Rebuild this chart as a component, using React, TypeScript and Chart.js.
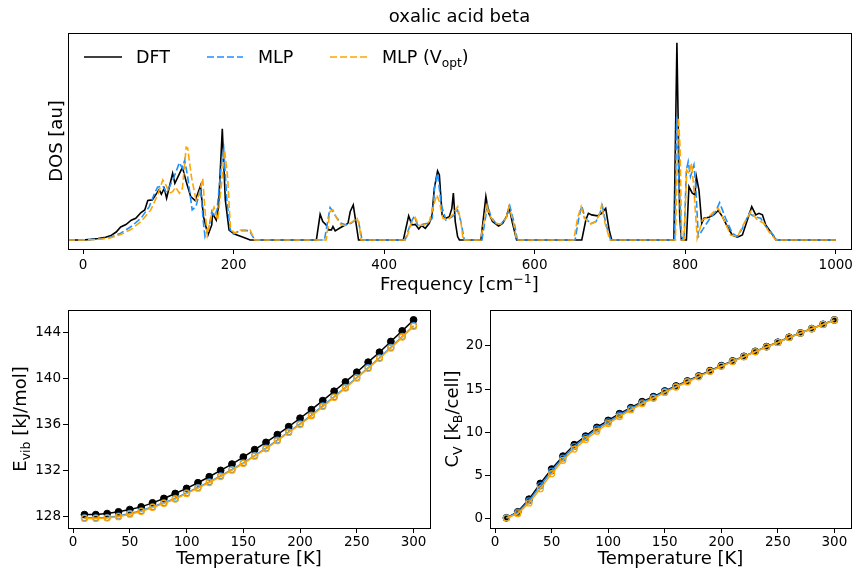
import React, { useEffect, useRef } from "react";
import { Chart, registerables } from "chart.js";
Chart.register(...registerables);

const FONT = "'DejaVu Sans', sans-serif";
const BLUE = "#1E90FF";
const ORANGE = "#FFA500";
const DASH = [7, 3];

// ---------- DOS data (frequency cm^-1, DOS arbitrary units) ----------
const dftFreq = [-20, 0, 10, 20, 30, 37, 44, 50, 57, 64, 70, 77, 82, 86, 92, 98, 101, 104, 108, 111, 119, 122, 132, 137, 143, 149, 156, 160, 166, 171, 172, 177, 180, 185, 189, 194, 201, 210, 218, 222,
  310, 315, 318.5, 323, 326, 330, 332, 335, 340.6, 347, 352, 355, 359, 363, 366,
  425.5, 432.6, 437, 441.4, 446, 450, 454.7, 460, 463.6, 466.7, 471, 473.4, 477, 482, 486.6, 490, 492, 494.5, 497.6, 500,
  528.6, 535.2, 539, 544, 552, 557.4, 562.6, 566, 570.6, 576,
  662.6, 668, 671.4, 675.8, 683.4, 689, 694.4, 699, 702.4,
  785, 789, 792.7, 795, 801.6, 805, 809.4, 813, 814.8, 818.3, 822, 825, 831.5, 838, 844, 849.4, 856, 862.5, 869.4, 876, 882.6, 888.4, 893.8, 898, 902.6, 907, 913.3, 920.6, 1000];
const dftDos = [0, 0, 0.003, 0.007, 0.014, 0.022, 0.04, 0.066, 0.078, 0.1, 0.11, 0.139, 0.152, 0.2, 0.203, 0.237, 0.255, 0.232, 0.262, 0.211, 0.338, 0.287, 0.368, 0.296, 0.22, 0.199, 0.274, 0.118, 0.025, 0.076, 0.135, 0.1, 0.169, 0.563, 0.203, 0.05, 0.03, 0.017, 0.006, 0,
  0, 0.13, 0.093, 0.076, 0.051, 0.051, 0.068, 0.046, 0.059, 0.073, 0.084, 0.144, 0.177, 0.076, 0,
  0, 0.122, 0.076, 0.079, 0.056, 0.073, 0.059, 0.084, 0.127, 0.262, 0.35, 0.33, 0.127, 0.11, 0.118, 0.16, 0.237, 0.093, 0.017, 0,
  0, 0.22, 0.135, 0.093, 0.071, 0.084, 0.118, 0.166, 0.084, 0,
  0, 0.101, 0.135, 0.127, 0.122, 0.135, 0.16, 0.051, 0,
  0, 1.0, 0.118, 0, 0, 0.27, 0.237, 0.228, 0.321, 0.253, 0.084, 0.11, 0.115, 0.127, 0.149, 0.118, 0.068, 0.025, 0.014, 0.025, 0.101, 0.169, 0.127, 0.135, 0.127, 0.076, 0.042, 0, 0];

const mlpFreq = [-20, 0, 15, 25, 37, 50, 64, 77, 88, 95, 99, 106, 110, 115, 121, 128, 132, 135, 139, 145, 150, 156, 160, 162, 168, 171, 174, 178, 184, 187, 191, 196, 200, 205, 208, 221, 228,
  320.7, 328.2, 332, 336, 343, 349.4, 356, 362, 366, 370.7,
  428, 436, 440, 444.5, 451, 458, 464, 467, 471, 476, 482, 491, 497.6, 502, 506.5,
  530, 537.4, 542, 548.5, 555, 562, 567, 573, 577,
  653.7, 659, 662.6, 667, 674.6, 681.4, 686.6, 690, 694.4, 701,
  786, 788.7, 792, 795, 798.5, 801.6, 804, 807, 811.6, 813.8, 817.4, 822.7, 831.5, 840.4, 845.7, 853.7, 862.5, 869.4, 876, 885, 891.6, 900.4, 907, 913.3, 922, 1000];
const mlpDos = [0, 0, 0.003, 0.006, 0.014, 0.034, 0.068, 0.11, 0.169, 0.237, 0.267, 0.274, 0.245, 0.27, 0.32, 0.392, 0.363, 0.405, 0.32, 0.152, 0.169, 0.262, 0.084, 0.017, 0.076, 0.144, 0.118, 0.152, 0.389, 0.456, 0.203, 0.042, 0.03, 0.04, 0.047, 0.047, 0,
  0, 0.164, 0.144, 0.118, 0.084, 0.076, 0.084, 0.101, 0.093, 0,
  0, 0.093, 0.118, 0.076, 0.079, 0.084, 0.11, 0.262, 0.338, 0.177, 0.101, 0.118, 0.152, 0.093, 0,
  0, 0.177, 0.118, 0.084, 0.081, 0.11, 0.172, 0.084, 0,
  0, 0.118, 0.172, 0.11, 0.084, 0.093, 0.135, 0.172, 0.084, 0,
  0, 0.625, 0.27, 0.017, 0, 0.355, 0.397, 0.321, 0.38, 0.287, 0.017, 0.05, 0.101, 0.144, 0.189, 0.11, 0.034, 0.017, 0.059, 0.135, 0.118, 0.11, 0.068, 0.042, 0, 0];

const optFreq = [-20, 0, 15, 25, 37, 50, 64, 77, 90, 99, 106, 110, 115, 119, 123, 128, 132, 137, 139, 144, 150, 154, 159, 162, 165, 171, 174, 179, 184, 188, 192, 196, 202, 208, 222, 228,
  323, 328, 332, 337, 343, 349.4, 358, 364, 367, 369.4,
  429, 436, 441.4, 446, 453.4, 460, 464.6, 470, 473.4, 478, 484.6, 491, 497.6, 502, 505,
  528, 536.4, 541, 548, 555, 562, 566, 572, 576,
  652, 657, 661.7, 666, 674.6, 681.4, 686.6, 689, 693.5, 700,
  787, 791, 793.1, 795.4, 798.5, 802, 805, 808.6, 811.6, 816, 822.7, 831.5, 840.4, 844, 851.6, 860.3, 869.4, 878.2, 887.3, 896, 904.8, 911, 920.6, 1000];
const optDos = [0, 0, 0.002, 0.005, 0.011, 0.027, 0.054, 0.093, 0.152, 0.228, 0.304, 0.279, 0.237, 0.245, 0.267, 0.237, 0.262, 0.47, 0.465, 0.32, 0.203, 0.228, 0.312, 0.152, 0.025, 0.135, 0.165, 0.1, 0.287, 0.456, 0.32, 0.05, 0.035, 0.05, 0.05, 0,
  0, 0.144, 0.152, 0.11, 0.076, 0.073, 0.093, 0.11, 0.076, 0,
  0, 0.084, 0.113, 0.073, 0.076, 0.093, 0.16, 0.228, 0.194, 0.11, 0.101, 0.127, 0.169, 0.093, 0,
  0, 0.169, 0.118, 0.084, 0.081, 0.11, 0.169, 0.084, 0,
  0, 0.11, 0.169, 0.11, 0.081, 0.093, 0.135, 0.177, 0.084, 0,
  0, 0.62, 0.473, 0, 0, 0.355, 0.338, 0.389, 0.253, 0.008, 0.101, 0.118, 0.152, 0.16, 0.101, 0.025, 0.017, 0.084, 0.144, 0.101, 0.084, 0.042, 0, 0];

// ---------- thermodynamics ----------
const temps = [10, 20, 30, 40, 50, 60, 70, 80, 90, 100, 110, 120, 130, 140, 150, 160, 170, 180, 190, 200, 210, 220, 230, 240, 250, 260, 270, 280, 290, 300];
const evibDft = [128.2, 128.2, 128.29, 128.44, 128.64, 128.87, 129.22, 129.6, 130.03, 130.47, 130.96, 131.48, 132.03, 132.58, 133.19, 133.83, 134.46, 135.13, 135.82, 136.55, 137.3, 138.08, 138.89, 139.7, 140.54, 141.41, 142.27, 143.2, 144.12, 145.07];
const evibMlp = [127.92, 127.92, 127.95, 128.08, 128.3, 128.53, 128.88, 129.23, 129.6, 130.08, 130.55, 131.04, 131.56, 132.11, 132.69, 133.32, 133.96, 134.66, 135.38, 136.06, 136.82, 137.62, 138.41, 139.22, 140.08, 140.93, 141.79, 142.69, 143.64, 144.57];
const evibOpt = [127.87, 127.87, 127.9, 128.02, 128.24, 128.47, 128.82, 129.17, 129.54, 130.02, 130.49, 130.98, 131.5, 132.05, 132.63, 133.26, 133.9, 134.6, 135.32, 136.0, 136.76, 137.56, 138.35, 139.16, 140.02, 140.87, 141.73, 142.63, 143.58, 144.51];
const cvDft = [0.08, 0.77, 2.24, 4.06, 5.73, 7.23, 8.55, 9.55, 10.56, 11.37, 12.15, 12.84, 13.54, 14.12, 14.78, 15.36, 15.94, 16.52, 17.14, 17.72, 18.26, 18.8, 19.38, 19.92, 20.43, 21.01, 21.51, 22.01, 22.51, 23.02];
const cvMlp = [0.07, 0.7, 2.05, 3.8, 5.5, 7.0, 8.35, 9.38, 10.38, 11.2, 12.0, 12.72, 13.42, 14.03, 14.7, 15.3, 15.88, 16.47, 17.09, 17.68, 18.22, 18.77, 19.35, 19.9, 20.41, 20.99, 21.5, 22.0, 22.5, 23.01];
const cvOpt = [0.06, 0.55, 1.8, 3.45, 5.2, 6.75, 8.05, 9.15, 10.12, 11.0, 11.82, 12.58, 13.3, 13.93, 14.62, 15.23, 15.83, 16.42, 17.05, 17.65, 18.19, 18.75, 19.33, 19.88, 20.4, 20.98, 21.49, 21.99, 22.49, 23.0];

const freqTicks = [0, 200, 400, 600, 800, 1000];

type Part = { t: string; s?: "sub" | "sup" };

const pts = (xs: number[], ys: number[]) => xs.map((x, i) => ({ x, y: ys[i] }));

function drawRich(ctx: CanvasRenderingContext2D, parts: Part[], cx: number, cy: number, size: number, rotate = false, align: "center" | "left" = "center") {
  ctx.save();
  ctx.translate(cx, cy);
  if (rotate) ctx.rotate(-Math.PI / 2);
  const widths = parts.map((p) => {
    ctx.font = `${p.s ? size * 0.7 : size}px ${FONT}`;
    return ctx.measureText(p.t).width;
  });
  const total = widths.reduce((a, b) => a + b, 0);
  let x = align === "center" ? -total / 2 : 0;
  const base = size * 0.36;
  ctx.fillStyle = "#000";
  ctx.textBaseline = "alphabetic";
  ctx.textAlign = "left";
  parts.forEach((p, i) => {
    const fs = p.s ? size * 0.7 : size;
    ctx.font = `${fs}px ${FONT}`;
    const dy = p.s === "sub" ? size * 0.22 : p.s === "sup" ? -size * 0.42 : 0;
    ctx.fillText(p.t, x, base + dy);
    x += widths[i];
  });
  ctx.restore();
}

type Label = { parts: Part[]; x: number; y: number; size: number; rotate?: boolean; align?: "center" | "left" };
type LegendLine = { x0: number; x1: number; y: number; color: string; dash: number[] };

function decorPlugin(labels: Label[], legendLines: LegendLine[] = []) {
  return {
    id: "decor",
    afterDraw(chart: any) {
      const ctx: CanvasRenderingContext2D = chart.ctx;
      const a = chart.chartArea;
      ctx.save();
      ctx.strokeStyle = "#000";
      ctx.lineWidth = 1;
      ctx.setLineDash([]);
      ctx.strokeRect(Math.round(a.left) + 0.5, Math.round(a.top) + 0.5, Math.round(a.right - a.left), Math.round(a.bottom - a.top));
      for (const l of legendLines) {
        ctx.beginPath();
        ctx.strokeStyle = l.color;
        ctx.lineWidth = 1.6;
        ctx.setLineDash(l.dash);
        ctx.moveTo(l.x0, l.y);
        ctx.lineTo(l.x1, l.y);
        ctx.stroke();
      }
      ctx.setLineDash([]);
      ctx.restore();
      for (const l of labels) drawRich(ctx, l.parts, l.x, l.y, l.size, !!l.rotate, l.align || "center");
    },
  };
}

const tickFont = { family: FONT, size: 13.5 };
const W = 856;
const H = 573;
const fmt = (v: any) => String(v);

function xAxis(min: number, max: number, step: number, height: number, pad: number) {
  return {
    type: "linear",
    min,
    max,
    ticks: { stepSize: step, includeBounds: false, font: tickFont, color: "#000", padding: pad, maxRotation: 0, autoSkip: false, callback: fmt },
    grid: { drawOnChartArea: false, drawTicks: true, tickLength: 5, color: "#000", lineWidth: 1 },
    border: { display: false },
    afterFit: (s: any) => { s.height = height; },
  };
}

function yAxis(min: number, max: number, step: number | null, width: number) {
  if (step === null) {
    return {
      type: "linear", min, max,
      ticks: { display: false },
      grid: { display: false },
      border: { display: false },
      afterFit: (s: any) => { s.width = width; },
    };
  }
  return {
    type: "linear", min, max,
    ticks: { stepSize: step, includeBounds: false, font: tickFont, color: "#000", padding: 2, callback: fmt },
    grid: { drawOnChartArea: false, drawTicks: true, tickLength: 5, color: "#000", lineWidth: 1 },
    border: { display: false },
    afterFit: (s: any) => { s.width = width; },
  };
}

function commonOpts(padding: any, scales: any) {
  return {
    animation: false,
    responsive: false,
    devicePixelRatio: 1,
    events: [],
    layout: { padding },
    plugins: { legend: { display: false }, tooltip: { enabled: false }, title: { display: false } },
    elements: { line: { tension: 0 } },
    scales,
  };
}

function useChart(ref: React.RefObject<HTMLCanvasElement>, make: () => any) {
  useEffect(() => {
    if (!ref.current) return;
    const chart = new Chart(ref.current, make());
    return () => chart.destroy();
  }, []);
}

export default function App() {
  const topRef = useRef<HTMLCanvasElement>(null);
  const leftRef = useRef<HTMLCanvasElement>(null);
  const rightRef = useRef<HTMLCanvasElement>(null);

  useChart(topRef, () => ({
    type: "line",
    data: {
      datasets: [
        { label: "DFT", data: pts(dftFreq, dftDos), borderColor: "#000", borderWidth: 1.6, pointRadius: 0, order: 3 },
        { label: "MLP", data: pts(mlpFreq, mlpDos), borderColor: BLUE, borderWidth: 1.6, borderDash: DASH, pointRadius: 0, order: 2 },
        { label: "MLP (Vopt)", data: pts(optFreq, optDos), borderColor: ORANGE, borderWidth: 1.6, borderDash: DASH, pointRadius: 0, order: 1 },
      ],
    },
    options: (() => {
      const o: any = commonOpts({ left: 0, top: 33, right: W - 851, bottom: H - 249 - 40 }, {
        x: xAxis(-20, 1020, 200, 40, 3),
        y: yAxis(-0.046, 1.049, null, 68),
      });
      o.scales.x.afterBuildTicks = (s: any) => { s.ticks = freqTicks.map((v) => ({ value: v })); };
      return o;
    })(),
    plugins: [decorPlugin([
      { parts: [{ t: "oxalic acid beta" }], x: 459.5, y: 16, size: 18 },
      { parts: [{ t: "Frequency [cm" }, { t: "\u22121", s: "sup" }, { t: "]" }], x: 459.5, y: 284, size: 18 },
      { parts: [{ t: "DOS [au]" }], x: 56, y: 141, size: 18, rotate: true },
      { parts: [{ t: "DFT" }], x: 136, y: 57, size: 17.5, align: "left" },
      { parts: [{ t: "MLP" }], x: 258, y: 57, size: 17.5, align: "left" },
      { parts: [{ t: "MLP (V" }, { t: "opt", s: "sub" }, { t: ")" }], x: 382, y: 57, size: 17.5, align: "left" },
    ], [
      { x0: 84, x1: 122, y: 57, color: "#000", dash: [] },
      { x0: 207, x1: 243, y: 57, color: BLUE, dash: DASH },
      { x0: 330, x1: 367, y: 57, color: ORANGE, dash: DASH },
    ])],
  }));

  const thermoSets = (dft: number[], mlp: number[], opt: number[]) => [
    { label: "DFT", data: pts(temps, dft), borderColor: "#000", borderWidth: 1.5, pointRadius: 3.4, pointBackgroundColor: "#000", pointBorderColor: "#000", pointBorderWidth: 1, order: 3 },
    { label: "MLP", data: pts(temps, mlp), borderColor: BLUE, borderWidth: 1.5, pointRadius: 3, pointBackgroundColor: "rgba(0,0,0,0)", pointBorderColor: BLUE, pointBorderWidth: 1.2, order: 2 },
    { label: "MLP (Vopt)", data: pts(temps, opt), borderColor: ORANGE, borderWidth: 1.5, pointRadius: 3, pointBackgroundColor: "rgba(0,0,0,0)", pointBorderColor: ORANGE, pointBorderWidth: 1.2, order: 1 },
  ];

  useChart(leftRef, () => ({
    type: "line",
    data: { datasets: thermoSets(evibDft, evibMlp, evibOpt) },
    options: commonOpts({ left: 0, top: 310, right: W - 430, bottom: H - 528 - 30 }, {
      x: xAxis(-4.5, 314.5, 50, 30, 1),
      y: yAxis(127.04, 145.93, 4, 68),
    }),
    plugins: [decorPlugin([
      { parts: [{ t: "Temperature [K]" }], x: 249, y: 558, size: 18 },
      { parts: [{ t: "E" }, { t: "vib", s: "sub" }, { t: " [kJ/mol]" }], x: 20, y: 419, size: 18, rotate: true },
    ])],
  }));

  useChart(rightRef, () => ({
    type: "line",
    data: { datasets: thermoSets(cvDft, cvMlp, cvOpt) },
    options: commonOpts({ left: 0, top: 310, right: W - 851, bottom: H - 528 - 30 }, {
      x: xAxis(-4.5, 314.5, 50, 30, 1),
      y: yAxis(-1.1, 24.17, 5, 490),
    }),
    plugins: [decorPlugin([
      { parts: [{ t: "Temperature [K]" }], x: 670.5, y: 558, size: 18 },
      { parts: [{ t: "C" }, { t: "V", s: "sub" }, { t: " [k" }, { t: "B", s: "sub" }, { t: "/cell]" }], x: 452, y: 419, size: 18, rotate: true },
    ])],
  }));

  const cs: React.CSSProperties = { position: "absolute", left: 0, top: 0, width: W, height: H };
  return (
    <div style={{ position: "absolute", left: 0, top: 0, width: W, height: H, background: "#fff" }}>
      <canvas ref={topRef} width={W} height={H} style={cs} />
      <canvas ref={leftRef} width={W} height={H} style={cs} />
      <canvas ref={rightRef} width={W} height={H} style={cs} />
    </div>
  );
}
